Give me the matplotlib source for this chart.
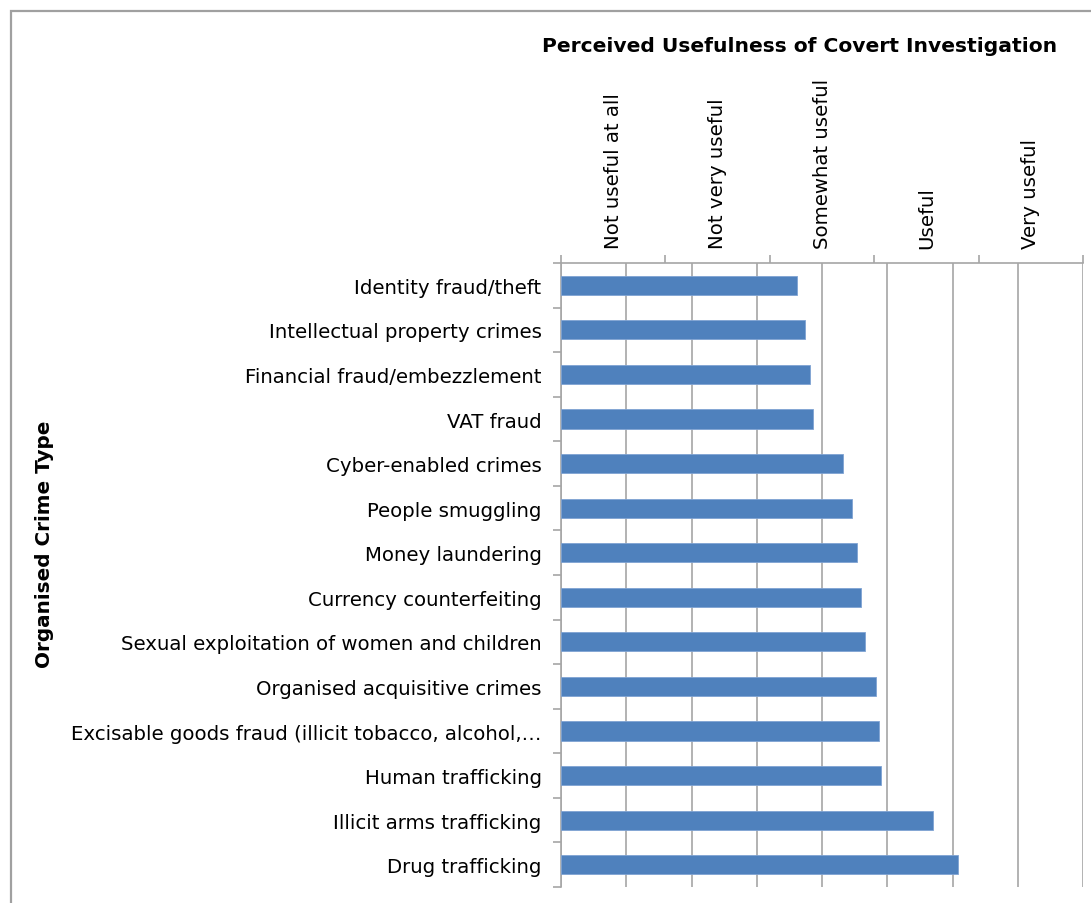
import numpy as np
import matplotlib.pyplot as plt
from matplotlib.patches import Rectangle
from matplotlib.ticker import FixedLocator, NullFormatter

# crime types, top to bottom
crimes = [
    "Identity fraud/theft",
    "Intellectual property crimes",
    "Financial fraud/embezzlement",
    "VAT fraud",
    "Cyber-enabled crimes",
    "People smuggling",
    "Money laundering",
    "Currency counterfeiting",
    "Sexual exploitation of women and children",
    "Organised acquisitive crimes",
    "Excisable goods fraud (illicit tobacco, alcohol,\u2026",
    "Human trafficking",
    "Illicit arms trafficking",
    "Drug trafficking",
]
# mean usefulness score (1-5)
scores = [2.81, 2.87, 2.91, 2.93, 3.16, 3.23, 3.27, 3.30, 3.33, 3.41, 3.44, 3.45, 3.85, 4.04]

levels = ["Not useful at all", "Not very useful", "Somewhat useful", "Useful", "Very useful"]

W, H = 1091, 904
fig = plt.figure(figsize=(W / 100, H / 100), dpi=100)
fig.patch.set_facecolor("white")

# chart area border
fig.patches.append(Rectangle((11 / W, -0.1), 1.2, 1 - 12 / H + 0.1, transform=fig.transFigure,
                             fill=False, edgecolor="#a0a0a0", linewidth=1.6))

ax = fig.add_axes([561 / W, 1 - 888 / H, 522 / W, 624 / H])
grid_col = "#a6a6a6"
fs = 14.2

y = np.arange(len(crimes))
ax.barh(y, np.array(scores) - 1, left=1, height=0.43, color="#4f81bd",
        edgecolor="#7fa3d3", linewidth=0.6, zorder=3)

ax.set_xlim(1, 5)
ax.set_ylim(len(crimes) - 0.5, -0.5)
ax.set_xticks(np.arange(1, 5.01, 0.5))
ax.xaxis.grid(True, color=grid_col, linewidth=1.2)

ax.set_yticks(y)
ax.set_yticklabels(crimes, fontsize=fs)
ax.yaxis.set_minor_locator(FixedLocator(np.arange(-0.5, len(crimes), 1)))
ax.tick_params(axis="y", which="major", length=0, pad=14)
ax.tick_params(axis="y", which="minor", length=6, color=grid_col, width=1.2)

for s in ["bottom", "right", "top"]:
    ax.spines[s].set_visible(False)
ax.spines["left"].set_color(grid_col)
ax.spines["left"].set_linewidth(1.2)

# ordinal scale across the top
ax2 = ax.twiny()
ax2.set_xlim(0, 5)
ax2.set_xticks(np.arange(0, 6))
ax2.xaxis.set_major_formatter(NullFormatter())
ax2.xaxis.set_minor_locator(FixedLocator(np.arange(0.5, 5, 1)))
ax2.set_xticklabels(levels, minor=True, rotation=90, fontsize=fs)
ax2.tick_params(axis="x", which="major", length=6, color=grid_col, width=1.2)
ax2.tick_params(axis="x", which="minor", length=0, pad=11)
for s in ["bottom", "right", "left"]:
    ax2.spines[s].set_visible(False)
ax2.spines["top"].set_color(grid_col)
ax2.spines["top"].set_linewidth(1.2)

# twiny puts the bottom ticks back, so switch them off here
ax.tick_params(axis="x", which="both", bottom=False, labelbottom=False)

fig.text(800 / W, 1 - 46 / H, "Perceived Usefulness of Covert Investigation",
         ha="center", va="center", fontsize=14.6, fontweight="bold")
fig.text(45 / W, 1 - 544 / H, "Organised Crime Type", ha="center", va="center",
         rotation=90, fontsize=14.4, fontweight="bold")

fig.savefig("out.png", dpi=100)
